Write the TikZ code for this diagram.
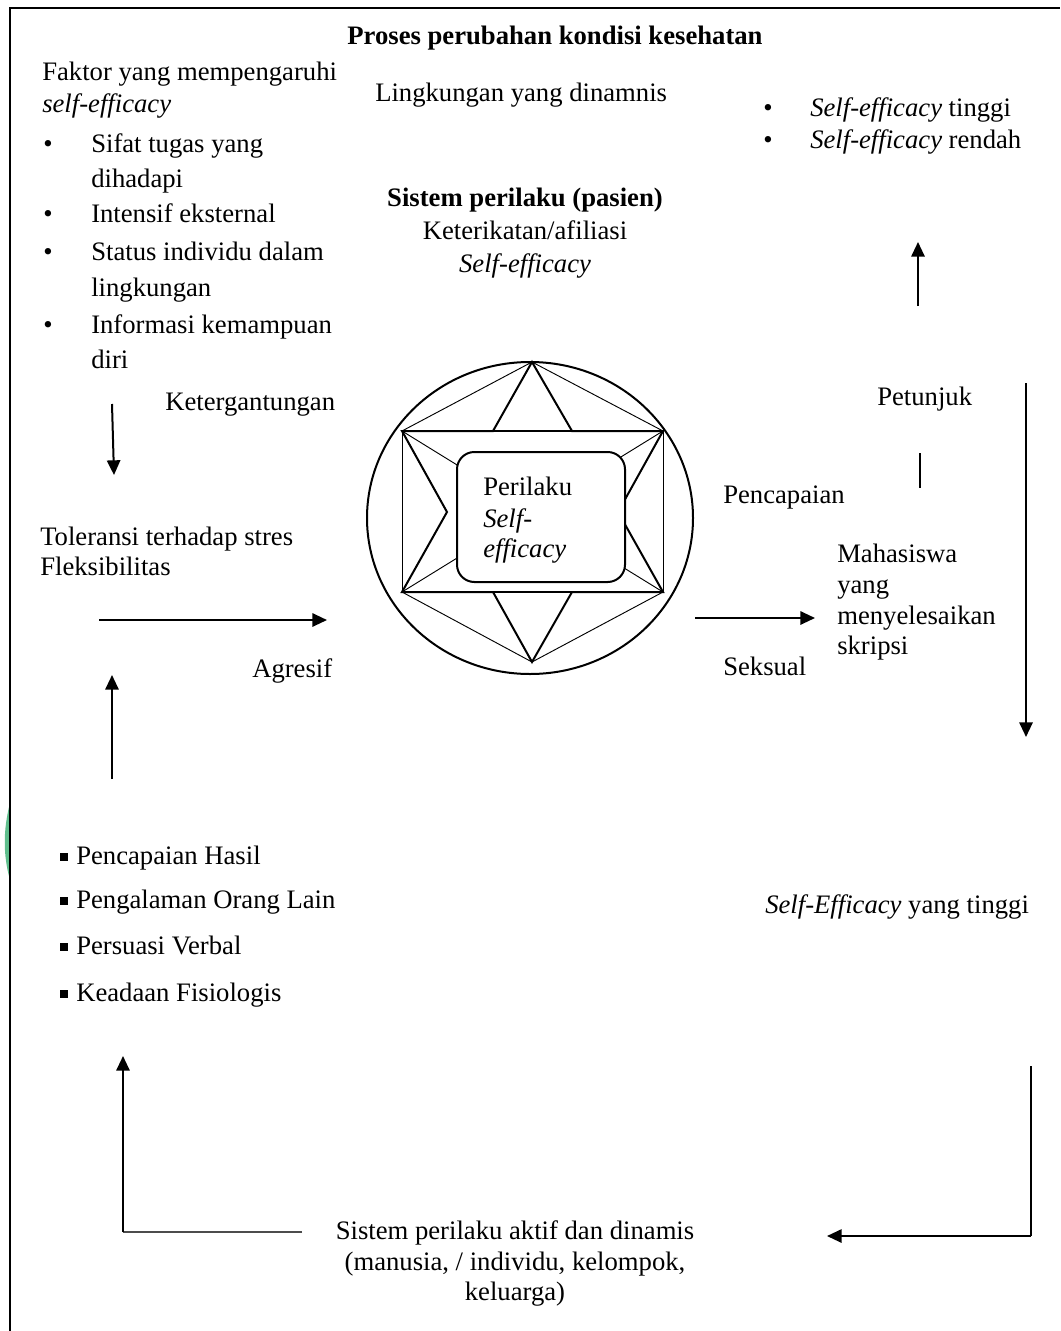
\documentclass[tikz,border=0pt]{standalone}
\usepackage{fontspec}
\setmainfont{Liberation Serif}
\usetikzlibrary{arrows.meta}
\definecolor{sliver}{RGB}{95,190,140}
\begin{document}
\begin{tikzpicture}[x=0.75pt,y=-0.75pt,
  txt/.style={anchor=base west, inner sep=0pt, font=\fontsize{20}{26}\selectfont},
  ctxt/.style={anchor=base, inner sep=0pt, font=\fontsize{20}{26}\selectfont},
  arr/.style={line width=1.5pt, -{Triangle[length=11pt,width=10pt]}},
  plain/.style={line width=1pt},
  thick star/.style={line width=1.5pt, line join=miter},
  thin line/.style={line width=0.7pt},
  sqb/.style={fill=black, minimum size=6pt, inner sep=0pt},
  dot/.style={anchor=base, inner sep=0pt, font=\fontsize{20}{26}\selectfont}]
\useasboundingbox (0,0) rectangle (1060,1331);

% green sliver at left edge
\fill[sliver] (10,803) .. controls (3,830) and (3,855) .. (10,880) -- cycle;
% frame
\draw[line width=2.2pt] (10,1331) -- (10,8) -- (1060,8);

% title
\node[ctxt, font=\fontsize{20}{26}\selectfont\bfseries] (title) at (555,45) {Proses perubahan kondisi kesehatan};

% left top block
\node[txt] (faktor) at (42,81) {Faktor yang mempengaruhi};
\node[txt] (faktor2) at (42,113) {\itshape self-efficacy};
\node[dot] (b1) at (48,152) {•};
\node[txt] (s1a) at (91,152) {Sifat tugas yang};
\node[txt] (s1b) at (91,187) {dihadapi};
\node[dot] (b2) at (48,222) {•};
\node[txt] (s2) at (91,222) {Intensif eksternal};
\node[dot] (b3) at (48,260) {•};
\node[txt] (s3a) at (91,260) {Status individu dalam};
\node[txt] (s3b) at (91,296) {lingkungan};
\node[dot] (b4) at (48,333) {•};
\node[txt] (s4a) at (91,333) {Informasi kemampuan};
\node[txt] (s4b) at (91,368) {diri};

\node[txt] (ling) at (375,101) {Lingkungan yang dinamnis};

% right top bullets
\node[dot] (rb1) at (768,116) {•};
\node[txt] (r1) at (810,116) {\textit{Self-efficacy} tinggi};
\node[dot] (rb2) at (768,148) {•};
\node[txt] (r2) at (810,148) {\textit{Self-efficacy} rendah};

% centre top
\node[ctxt, font=\fontsize{20}{26}\selectfont\bfseries] (sis) at (525,206) {Sistem perilaku (pasien)};
\node[ctxt] (ket) at (525,239) {Keterikatan/afiliasi};
\node[ctxt] (se) at (525,272) {\itshape Self-efficacy};

% right side labels
\node[txt] (pet) at (877,405) {Petunjuk};
\node[txt] (penc) at (723,503) {Pencapaian};
\node[txt] (m1) at (837,562) {Mahasiswa};
\node[txt] (m2) at (837,593) {yang};
\node[txt] (m3) at (837,624) {menyelesaikan};
\node[txt] (m4) at (837,654) {skripsi};
\node[txt] (seks) at (723,675) {Seksual};

% left middle labels
\node[txt] (kt) at (165,410) {Ketergantungan};
\node[txt] (tol) at (40,545) {Toleransi terhadap stres};
\node[txt] (flek) at (40,575) {Fleksibilitas};
\node[txt] (agr) at (252,677) {Agresif};

% square bullet list
\node[sqb] (q1) at (64,857) {};
\node[txt] (p1) at (76,864) {Pencapaian Hasil};
\node[sqb] (q2) at (64,901) {};
\node[txt] (p2) at (76,908) {Pengalaman Orang Lain};
\node[sqb] (q3) at (64,947) {};
\node[txt] (p3) at (76,954) {Persuasi Verbal};
\node[sqb] (q4) at (64,994) {};
\node[txt] (p4) at (76,1001) {Keadaan Fisiologis};

\node[txt] (sehigh) at (765,913) {\textit{Self-Efficacy} yang tinggi};

% bottom text
\node[ctxt] (bt1) at (515,1239) {Sistem perilaku aktif dan dinamis};
\node[ctxt] (bt2) at (515,1270) {(manusia, / individu, kelompok,};
\node[ctxt] (bt3) at (515,1300) {keluarga)};

% central figure
\draw[line width=1.5pt] (530,518) ellipse [x radius=163, y radius=156];
\coordinate (T) at (532,362);
\coordinate (B) at (532,662);
\coordinate (TL) at (402,431);
\coordinate (TR) at (663,431);
\coordinate (BL) at (402,592);
\coordinate (BR) at (663,592);
\coordinate (iTL) at (493,431);
\coordinate (iTR) at (572,431);
\coordinate (iBL) at (493,592);
\coordinate (iBR) at (572,592);
\coordinate (iL) at (447,512);
\coordinate (iR) at (618,512);
% thin hexagon and rectangle with diagonals
\draw[thin line] (TL) -- (T) -- (TR);
\draw[thin line] (BL) -- (B) -- (BR);
\draw[thin line] (TL) rectangle (BR);
\draw[thin line] (TL) -- (BR);
\draw[thin line] (TR) -- (BL);
\draw[line width=1.5pt] (iTL) -- (iTR);
\draw[line width=1.5pt] (iBL) -- (iBR);
% star outline
\draw[thick star] (T) -- (iTR) -- (TR) -- (iR) -- (BR) -- (iBR) -- (B) -- (iBL) -- (BL) -- (iL) -- (TL) -- (iTL) -- cycle;
% centre box
\draw[line width=1.5pt, fill=white, rounded corners=13pt] (457,452) rectangle (625,582);
\node[txt] (cb1) at (483,495) {Perilaku};
\node[txt] (cb2) at (483,527) {\itshape Self-};
\node[txt] (cb3) at (483,557) {\itshape efficacy};

% connectors
\coordinate (a1s) at (918,306); \coordinate (a1e) at (918,242);
\draw[arr] (a1s) -- (a1e);
\coordinate (l1s) at (920,453); \coordinate (l1e) at (920,488);
\draw[line width=0.8pt] (l1s) -- (l1e);
\coordinate (a2s) at (1026,383); \coordinate (a2e) at (1026,737);
\draw[arr] (a2s) -- (a2e);
\coordinate (a3s) at (695,618); \coordinate (a3e) at (815,618);
\draw[arr] (a3s) -- (a3e);
\coordinate (a4s) at (112,404); \coordinate (a4e) at (114,475);
\draw[arr] (a4s) -- (a4e);
\coordinate (a5s) at (99,620); \coordinate (a5e) at (327,620);
\draw[arr] (a5s) -- (a5e);
\coordinate (a6s) at (112,779); \coordinate (a6e) at (112,675);
\draw[arr] (a6s) -- (a6e);
% bottom right elbow
\coordinate (a7s) at (1031,1066); \coordinate (a7c) at (1031,1236); \coordinate (a7e) at (827,1236);
\draw[plain] (a7s) -- (a7c);
\draw[arr] (a7c) -- (a7e);
% bottom left elbow
\coordinate (a8s) at (302,1232); \coordinate (a8c) at (123,1232); \coordinate (a8e) at (123,1056);
\draw[line width=1pt, black!70] (a8s) -- (a8c);
\draw[arr] (a8c) -- (a8e);
\end{tikzpicture}
\end{document}
